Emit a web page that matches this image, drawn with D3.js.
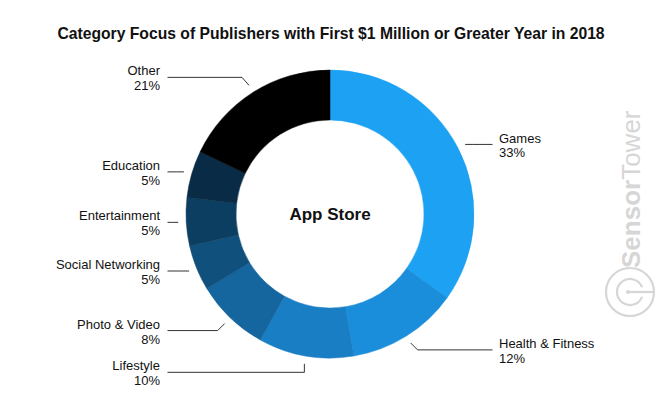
<!DOCTYPE html>
<html>
<head>
<meta charset="utf-8">
<script src="https://cdn.jsdelivr.net/npm/d3@7"></script>
<style>
  body { margin: 0; background: #fff; }
  svg { display: block; }
  text { font-family: "Liberation Sans", Arial, Helvetica, sans-serif; }
</style>
</head>
<body>
<div id="chart"></div>
<script>
// Categories clockwise from 12 o'clock
var categories = ["Games", "Health & Fitness", "Lifestyle", "Photo & Video",
  "Social Networking", "Entertainment", "Education", "Other"];
// Percentages as printed on the labels
var printedPct = [33, 12, 10, 8, 5, 5, 5, 21];
// Arc sizes as they are drawn in the picture (not quite the printed ones)
var sliceShares = [34.9, 12.5, 10.7, 8.3, 5.1, 5.4, 5.3, 17.9];
var sliceColors = ["#1da1f2", "#1b8edb", "#1a7ec5", "#15659f",
  "#10507d", "#0c3e62", "#092b45", "#000000"];

var title = "Category Focus of Publishers with First $1 Million or Greater Year in 2018";
var centerLabel = "App Store";

var width = 660, height = 404;
var cx = 330, cy = 214;
var rOuter = 144, rInner = 94;

var svg = d3.select("#chart").append("svg")
  .attr("width", width)
  .attr("height", height);

// Title
svg.append("text")
  .attr("x", cx + 1)
  .attr("y", 38.5)
  .attr("text-anchor", "middle")
  .attr("font-size", 15.7)
  .attr("font-weight", "bold")
  .attr("fill", "#111")
  .text(title);

// Watermark (SensorTower)
var wm = svg.append("g").attr("fill", "none").attr("stroke", "#d6d6d6");
wm.append("circle").attr("cx", 630).attr("cy", 292).attr("r", 24).attr("stroke-width", 2.2);
wm.append("path")
  .attr("d", d3.arc().innerRadius(13).outerRadius(13)
    .startAngle(Math.PI * 0.62).endAngle(Math.PI * 2.38)())
  .attr("transform", "translate(630,292)")
  .attr("stroke-width", 2.2);
wm.append("line").attr("x1", 627).attr("y1", 292).attr("x2", 654).attr("y2", 292)
  .attr("stroke-width", 2.2);
wm.append("circle").attr("cx", 628).attr("cy", 292).attr("r", 2).attr("fill", "#d6d6d6").attr("stroke", "none");
var wmText = svg.append("text")
  .attr("transform", "translate(640,268) rotate(-90)")
  .attr("font-size", 26)
  .attr("fill", "#d6d6d6");
wmText.append("tspan").attr("font-weight", "bold").text("Sensor");
wmText.append("tspan").attr("font-weight", "normal").text("Tower");

// Donut
var rows = categories.map(function(c, i) {
  return { name: c, pct: printedPct[i], share: sliceShares[i], color: sliceColors[i] };
});

var pie = d3.pie().sort(null).value(function(d) { return d.share; });
var arcs = pie(rows);

var arc = d3.arc().innerRadius(rInner).outerRadius(rOuter);
var leaderArc = d3.arc().innerRadius(152).outerRadius(152);

var g = svg.append("g").attr("transform", "translate(" + cx + "," + cy + ")");

g.selectAll("path.slice")
  .data(arcs)
  .enter().append("path")
  .attr("class", "slice")
  .attr("d", arc)
  .attr("fill", function(d) { return d.data.color; })
  .attr("stroke", function(d) { return d.data.color; })
  .attr("stroke-width", 0.5);

g.append("text")
  .attr("x", 0)
  .attr("y", 6)
  .attr("text-anchor", "middle")
  .attr("font-size", 17)
  .attr("font-weight", "bold")
  .attr("fill", "#111")
  .text(centerLabel);

// Leader lines and labels
var lineEnd = 162.5, textGap = 170;

arcs.forEach(function(d) {
  var mid = (d.startAngle + d.endAngle) / 2;
  var p0 = leaderArc.centroid(d);
  var sx = Math.sin(mid), sy = -Math.cos(mid);
  var right = sx > 0;
  // short diagonal kink outward, flat near 3/9 o'clock, vertical near 6 o'clock
  var dx = Math.abs(sx) > 0.3 ? (right ? 7 : -7) : 0;
  var dy = Math.abs(sy) > 0.5 ? (sy > 0 ? 7 : -8) : 0;
  if (dx === 0) dy = 8.5;
  var p1 = [p0[0] + dx, p0[1] + dy];
  var p2 = [right ? lineEnd : -lineEnd, p1[1]];

  g.append("path")
    .attr("d", d3.line()([p0, p1, p2]))
    .attr("fill", "none")
    .attr("stroke", "#333")
    .attr("stroke-width", 1);

  var t = g.append("text")
    .attr("text-anchor", right ? "start" : "end")
    .attr("font-size", 13)
    .attr("fill", "#111");
  var tx = right ? textGap - 1 : -textGap;
  t.append("tspan").attr("x", tx).attr("y", p1[1] - 1.9).text(d.data.name);
  t.append("tspan").attr("x", tx).attr("y", p1[1] + 13).text(d.data.pct + "%");
});
</script>
</body>
</html>
